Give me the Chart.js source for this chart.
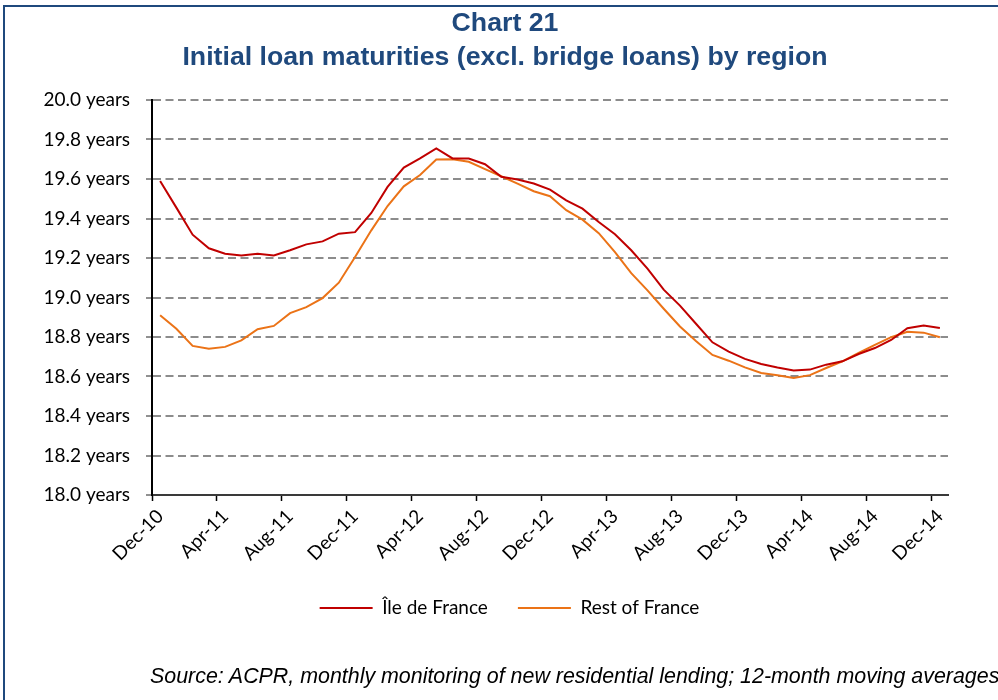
<!DOCTYPE html>
<html>
<head>
<meta charset="utf-8">
<script src="https://cdn.jsdelivr.net/npm/chart.js@4.4.0/dist/chart.umd.min.js"></script>
<style>
  body { margin: 0; background: #fff; }
  #page { position: relative; width: 998px; height: 700px; overflow: hidden; }
  #frame { position: absolute; left: 3px; top: 5px; right: 0; bottom: -5px; border-top: 2px solid #1F497D; border-left: 2px solid #1F497D; }
  #title { position: absolute; left: 12px; right: 0; top: 5px; text-align: center; font: bold 26.7px "Liberation Sans", Arial, sans-serif; line-height: 34px; color: #1F497D; }
  #source { position: absolute; left: 150px; top: 664px; white-space: nowrap; font: italic 21.4px "Liberation Sans", Arial, sans-serif; color: #000; }
  #chart { position: absolute; left: 0; top: 0; }
</style>
</head>
<body>
<div id="page">
  <canvas id="chart" width="998" height="700"></canvas>
  <div id="frame"></div>
  <div id="title">Chart 21<br>Initial loan maturities (excl. bridge loans) by region</div>
  <div id="source">Source: ACPR, monthly monitoring of new residential lending; 12-month moving averages</div>
</div>
<script>
const months = [
  'Dec-10','Jan-11','Feb-11','Mar-11','Apr-11','May-11','Jun-11','Jul-11','Aug-11','Sep-11','Oct-11','Nov-11',
  'Dec-11','Jan-12','Feb-12','Mar-12','Apr-12','May-12','Jun-12','Jul-12','Aug-12','Sep-12','Oct-12','Nov-12',
  'Dec-12','Jan-13','Feb-13','Mar-13','Apr-13','May-13','Jun-13','Jul-13','Aug-13','Sep-13','Oct-13','Nov-13',
  'Dec-13','Jan-14','Feb-14','Mar-14','Apr-14','May-14','Jun-14','Jul-14','Aug-14','Sep-14','Oct-14','Nov-14',
  'Dec-14'
];

// 12-month moving averages, in years
const ileDeFrance = [
  19.59, 19.455, 19.318, 19.249, 19.222, 19.213, 19.222, 19.213, 19.239, 19.269, 19.284, 19.323,
  19.331, 19.428, 19.56, 19.658, 19.704, 19.755, 19.704, 19.704, 19.675, 19.611, 19.597, 19.577,
  19.546, 19.492, 19.45, 19.382, 19.32, 19.239, 19.146, 19.04, 18.959, 18.866, 18.773, 18.726,
  18.689, 18.663, 18.646, 18.631, 18.635, 18.66, 18.677, 18.714, 18.744, 18.785, 18.844, 18.858,
  18.846
];
const restOfFrance = [
  18.91, 18.842, 18.755, 18.74, 18.75, 18.783, 18.839, 18.856, 18.921, 18.951, 18.997, 19.075,
  19.205, 19.34, 19.463, 19.563, 19.62, 19.699, 19.70, 19.687, 19.65, 19.614, 19.577, 19.538,
  19.513, 19.442, 19.394, 19.326, 19.23, 19.123, 19.036, 18.943, 18.853, 18.778, 18.709, 18.68,
  18.646, 18.618, 18.606, 18.592, 18.607, 18.643, 18.677, 18.719, 18.76, 18.799, 18.826, 18.822,
  18.799
];

const seriesNames = ['Île de France', 'Rest of France'];
const seriesColors = ['#C00000', '#EB7317'];
const labelEvery = 4;

Chart.defaults.font.family = 'Lato, "Open Sans", sans-serif';
Chart.defaults.color = '#000';

// legend sits a little right of the canvas centre, under the plot
const legendShift = {
  id: 'legendShift',
  afterLayout(chart) {
    chart.legend.left += 35.5;
    chart.legend.right += 35.5;
  }
};

new Chart(document.getElementById('chart'), {
  type: 'line',
  data: {
    labels: months,
    datasets: [ileDeFrance, restOfFrance].map((d, i) => ({
      label: seriesNames[i],
      data: d,
      borderColor: seriesColors[i],
      backgroundColor: seriesColors[i],
      borderWidth: 2,
      pointRadius: 0,
      tension: 0
    }))
  },
  options: {
    responsive: false,
    animation: false,
    layout: { padding: { left: 0, right: 50, top: 100, bottom: 72.5 } },
    scales: {
      x: {
        type: 'category',
        offset: true,
        afterFit: s => { s.height = 73.5; },
        grid: {
          offset: true,
          drawOnChartArea: false,
          tickLength: 6,
          tickWidth: 1.5,
          tickColor: c => (c.index % labelEvery === 0 ? '#000' : 'transparent')
        },
        border: { color: '#3a3a3a', width: 2 },
        ticks: {
          autoSkip: false,
          minRotation: 45,
          maxRotation: 45,
          padding: 4,
          font: { size: 19 },
          callback: (v, i) => (i % labelEvery === 0 ? months[i] : '')
        }
      },
      y: {
        min: 18,
        max: 20,
        afterFit: s => { s.width = 152; },
        grid: {
          color: c => (c.tick && c.tick.value <= 18.0001 ? 'transparent' : '#8c8c8c'),
          lineWidth: 2,
          tickLength: 6,
          tickWidth: 1,
          tickColor: '#222'
        },
        border: { color: '#000', width: 2, dash: [8, 4.5] },
        ticks: {
          stepSize: 0.2,
          padding: 16,
          font: { size: 19 },
          callback: v => v.toFixed(1) + ' years'
        }
      }
    },
    plugins: {
      tooltip: { enabled: false },
      legend: {
        position: 'bottom',
        labels: {
          usePointStyle: true,
          pointStyle: 'line',
          pointStyleWidth: 53,
          padding: 30,
          font: { size: 19 },
          color: '#000'
        }
      }
    }
  },
  plugins: [legendShift]
});
</script>
</body>
</html>
